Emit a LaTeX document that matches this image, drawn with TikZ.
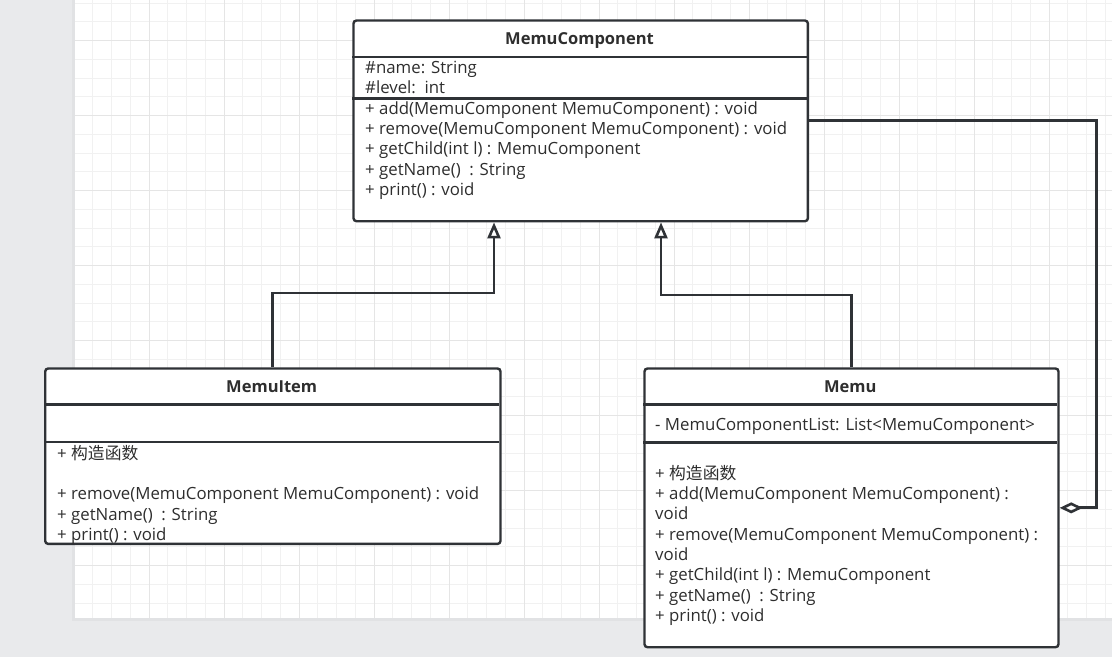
\documentclass[tikz,border=0pt]{standalone}
\usepackage{fontspec}
\setmainfont{Open Sans}
\newfontfamily\cjk{Noto Sans CJK SC}
\usetikzlibrary{arrows.meta}
\definecolor{bgout}{HTML}{E9EAEC}
\definecolor{shadowc}{HTML}{E1E2E4}
\definecolor{gridminor}{HTML}{F1F1F1}
\definecolor{gridmajor}{HTML}{E5E5E5}
\definecolor{ink}{HTML}{2F3236}
\definecolor{txt}{HTML}{2E2E2E}
\newcommand{\txtfont}{\fontsize{16.8}{20}\selectfont}
\begin{document}
\begin{tikzpicture}[x=1pt,y=-1pt,
 umlbox/.style={draw=ink, line width=2.4pt, rounded corners=3pt, fill=white, inner sep=0pt, anchor=north west},
 divider/.style={draw=ink, line width=2.4pt},
 ttl/.style={font=\fontsize{16.5}{20}\selectfont\bfseries, text=txt, anchor=base, inner sep=0pt},
 tx/.style={font=\txtfont, text=txt, anchor=base west, inner sep=0pt},
 inh/.style={draw=ink, line width=2.8pt, -{Triangle[open, length=16pt, width=13pt, line width=2.6pt]}},
 agg/.style={draw=ink, line width=2.8pt, -{Diamond[open, length=23pt, width=11pt, line width=2.6pt]}},
]
\useasboundingbox (0,0) rectangle (1112,657);
\fill[bgout] (0,0) rectangle (1112,657);
\fill[shadowc] (72,0) rectangle (1112,621);
\fill[white] (75,0) rectangle (1112,618);
\foreach \i in {1,...,55} {\draw[gridminor, line width=1pt] ({74+18.75*\i},0) -- ({74+18.75*\i},618);}
\foreach \k in {0,...,32} {\draw[gridminor, line width=1pt] (75,{3+18.75*\k}) -- (1112,{3+18.75*\k});}
\foreach \i in {1,...,13} {\draw[gridmajor, line width=1pt] ({74+75*\i},0) -- ({74+75*\i},618);}
\foreach \k in {0,...,7} {\draw[gridmajor, line width=1pt] (75,{40.5+75*\k}) -- (1112,{40.5+75*\k});}

% MemuComponent
\node[umlbox, minimum width=454.4pt, minimum height=200.7pt] (comp) at (352.3,19.3) {};
\draw[divider] (352.3,56.7) -- (806.7,56.7);
\draw[divider] (352.3,98.3) -- (806.7,98.3);
\node[ttl] (compT) at (579.5,44) {MemuComponent};
\node[tx] (ca1) at (365,73) {\#name: String};
\node[tx] (ca2) at (365,93.3) {\#level:\ \ int};
\node[tx] (cm1) at (365,114) {+ add(MemuComponent MemuComponent) : void};
\node[tx] (cm2) at (365,134.3) {+ remove(MemuComponent MemuComponent) : void};
\node[tx] (cm3) at (365,154.6) {+ getChild(int l) : MemuComponent};
\node[tx] (cm4) at (365,175) {+ getName()\ \ : String};
\node[tx] (cm5) at (365,195.3) {+ print() : void};

% MemuItem
\node[umlbox, minimum width=455.3pt, minimum height=175.4pt] (item) at (44,367.3) {};
\draw[divider] (44,404.3) -- (499.3,404.3);
\draw[divider] (44,441.7) -- (499.3,441.7);
\node[ttl] (itemT) at (271.7,392) {MemuItem};
\node[tx] (im1) at (57,459) {+ {\cjk 构造函数}};
\node[tx] (im2) at (57,499.6) {+ remove(MemuComponent MemuComponent) : void};
\node[tx] (im3) at (57,520) {+ getName()\ \ : String};
\node[tx] (im4) at (57,540.3) {+ print() : void};

% Memu
\node[umlbox, minimum width=414pt, minimum height=278.7pt] (memu) at (643.3,367.3) {};
\draw[divider] (643.3,404.3) -- (1057.3,404.3);
\draw[divider] (643.3,442.3) -- (1057.3,442.3);
\node[ttl] (memuT) at (850.3,392) {Memu};
\node[tx] (ma1) at (655,430) {- MemuComponentList: List<MemuComponent>};
\node[tx] (mm1) at (655,479) {+ {\cjk 构造函数}};
\node[tx] (mm2) at (655,499.3) {+ add(MemuComponent MemuComponent) :};
\node[tx] (mm3) at (655,519.6) {void};
\node[tx] (mm4) at (655,540) {+ remove(MemuComponent MemuComponent) :};
\node[tx] (mm5) at (655,560.3) {void};
\node[tx] (mm6) at (655,580.6) {+ getChild(int l) : MemuComponent};
\node[tx] (mm7) at (655,601) {+ getName()\ \ : String};
\node[tx] (mm8) at (655,621.3) {+ print() : void};

% connectors
\draw[inh] (item.north) -- ++(0,-74.3) -| ([xshift=141.7pt]comp.south west);
\draw[inh] (memu.north) -- ++(0,-72.3) -| ([xshift=308.7pt]comp.south west);
\draw[agg] (comp.east) -- ++(287.3,0) |- (memu.east);
\end{tikzpicture}
\end{document}
